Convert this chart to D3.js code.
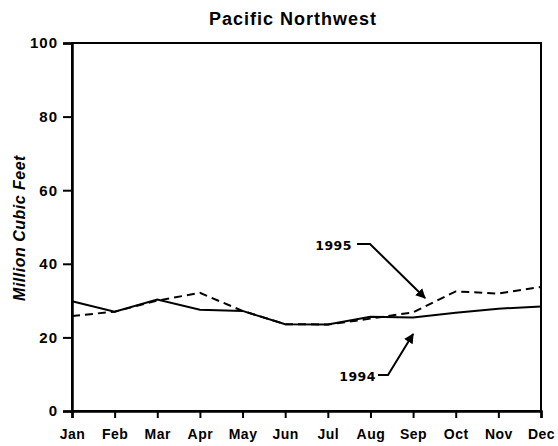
<!DOCTYPE html>
<html>
<head>
<meta charset="utf-8">
<script src="https://cdn.jsdelivr.net/npm/d3@7"></script>
<style>
body { margin: 0; background: #fff; }
text { font-family: "Liberation Sans", Arial, sans-serif; fill: #000; }
</style>
</head>
<body>
<div id="chart"></div>
<script>
var months = ["Jan","Feb","Mar","Apr","May","Jun","Jul","Aug","Sep","Oct","Nov","Dec"];
var values1994 = [29.8, 27.0, 30.3, 27.5, 27.2, 23.6, 23.5, 25.6, 25.4, 26.7, 27.8, 28.4];
var values1995 = [25.8, 27.0, 30.0, 32.1, 27.2, 23.6, 23.5, 25.1, 26.8, 32.5, 31.9, 33.7];
var yTicks = [0, 20, 40, 60, 80, 100];

var width = 558, height = 446;
var margin = {top: 43, right: 17, bottom: 35, left: 72};
var w = width - margin.left - margin.right;
var h = height - margin.top - margin.bottom;

var svg = d3.select("#chart").append("svg")
    .attr("width", width).attr("height", height);

var x = d3.scalePoint().domain(months).range([0, w]);
var y = d3.scaleLinear().domain([0, 100]).range([h, 0]);

var g = svg.append("g").attr("transform", "translate(" + margin.left + "," + margin.top + ")");

// frame (top and right)
g.append("rect").attr("x", 0).attr("y", 0).attr("width", w).attr("height", h)
    .attr("fill", "none").attr("stroke", "#000").attr("stroke-width", 2);

var yAxis = g.append("g").call(d3.axisLeft(y).tickValues(yTicks).tickSize(9).tickPadding(5));
var xAxis = g.append("g").attr("transform", "translate(0," + h + ")")
    .call(d3.axisBottom(x).tickSize(7).tickPadding(11));

[yAxis, xAxis].forEach(function(a) {
    a.select(".domain").attr("stroke-width", 2.5);
    a.selectAll(".tick line").attr("stroke-width", 2);
    a.selectAll("text").style("font-weight", "bold")
        .style("font-family", "'Liberation Sans', Arial, sans-serif");
});
xAxis.selectAll("text").style("font-size", "14px").style("letter-spacing", "0.5px");
yAxis.selectAll("text").style("font-size", "15px").style("letter-spacing", "1px");

var line = d3.line().x(function(d, i) { return x(months[i]); }).y(function(d) { return y(d); });

g.append("path").attr("d", line(values1994)).attr("fill", "none")
    .attr("stroke", "#000").attr("stroke-width", 2);
g.append("path").attr("d", line(values1995)).attr("fill", "none")
    .attr("stroke", "#000").attr("stroke-width", 2).attr("stroke-dasharray", "8,5");

// title
svg.append("text").attr("x", 293).attr("y", 25).attr("text-anchor", "middle")
    .style("font-size", "18px").style("font-weight", "bold").style("letter-spacing", "1px")
    .text("Pacific Northwest");

// y label
svg.append("text").attr("transform", "translate(25," + 228 + ") rotate(-90)")
    .attr("text-anchor", "middle").style("font-size", "16px").style("font-weight", "bold")
    .style("font-style", "italic").style("letter-spacing", "0.5px").text("Million Cubic Feet");

// annotations
var defs = svg.append("defs");
defs.append("marker").attr("id", "arrow").attr("viewBox", "0 0 10 10")
    .attr("refX", 9).attr("refY", 5).attr("markerWidth", 5).attr("markerHeight", 5)
    .attr("orient", "auto")
    .append("path").attr("d", "M0,0 L10,5 L0,10 z").attr("fill", "#000");

svg.append("text").attr("x", 352).attr("y", 250).attr("text-anchor", "end")
    .style("font-family", "'DejaVu Sans', sans-serif")
    .style("font-size", "12.5px").style("font-weight", "bold").style("letter-spacing", "0.5px").text("1995");
svg.append("polyline").attr("points", "357,244 370,244 " + (x("Sep") + margin.left + 12) + "," + 298)
    .attr("fill", "none").attr("stroke", "#000").attr("stroke-width", 2).attr("marker-end", "url(#arrow)");

svg.append("text").attr("x", 376).attr("y", 381).attr("text-anchor", "end")
    .style("font-family", "'DejaVu Sans', sans-serif")
    .style("font-size", "12.5px").style("font-weight", "bold").style("letter-spacing", "0.5px").text("1994");
svg.append("polyline").attr("points", "378,375 388,375 " + (x("Sep") + margin.left) + "," + 334)
    .attr("fill", "none").attr("stroke", "#000").attr("stroke-width", 2).attr("marker-end", "url(#arrow)");
</script>
</body>
</html>
